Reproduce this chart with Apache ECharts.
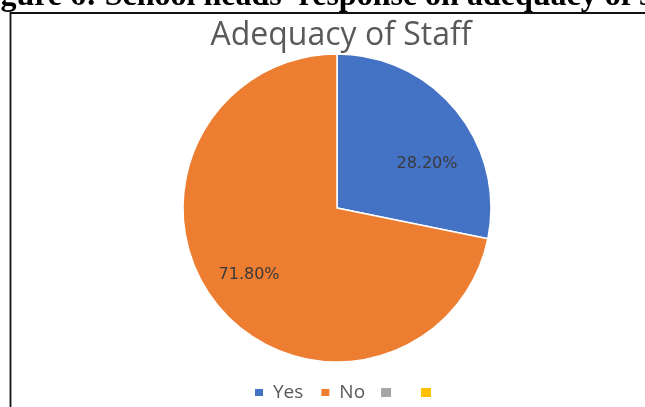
<!DOCTYPE html>
<html>
<head>
<meta charset="utf-8">
<script src="https://cdn.jsdelivr.net/npm/echarts@6/dist/echarts.min.js"></script>
<style>html,body{margin:0;padding:0;background:#fff}#c{width:645px;height:407px}</style>
</head>
<body>
<div id="c"></div>
<script>
var categories = ['Yes', 'No', ' ', '  '];
var values = [28.2, 71.8, 0, 0];
var colors = ['#4472C4', '#ED7D31', '#A5A5A5', '#FFC000'];
var chartTitle = 'Adequacy of Staff';
var figureCaption = "Figure 6: School heads' response on adequacy of staff";

var chart = echarts.init(document.getElementById('c'), null, {renderer: 'canvas'});
var data = categories.map(function (n, i) {
  var item = {name: n, value: values[i], itemStyle: {color: colors[i]}};
  if (values[i] === 0) { item.label = {show: false}; item.itemStyle.borderWidth = 0; }
  return item;
});
var labelShift = [[28, 6], [-26, 16]];
chart.setOption({
  animation: false,
  backgroundColor: '#fff',
  graphic: [{
    type: 'rect', z: -1,
    shape: {x: 10.5, y: 13, width: 800, height: 600},
    style: {fill: 'none', stroke: '#111', lineWidth: 1.8}
  }],
  title: [{
    text: figureCaption,
    left: -33, top: -24,
    textStyle: {fontFamily: 'Liberation Serif', fontWeight: 'bold', fontSize: 32, color: '#000'}
  }, {
    text: chartTitle,
    left: 336, top: 15, textAlign: 'center',
    textStyle: {fontFamily: 'Open Sans', fontWeight: 'normal', fontSize: 32, color: '#595959'}
  }],
  legend: {
    data: categories,
    left: 248, top: 378,
    itemWidth: 10, itemHeight: 9, itemGap: 16,
    icon: 'rect',
    formatter: function (n) { return n.trim() === '' ? ' ' : n; },
    textStyle: {fontFamily: 'Open Sans', fontSize: 19, color: '#595959', padding: [0, 0, 0, 4]}
  },
  series: [{
    type: 'pie',
    center: [337, 208],
    radius: 154,
    startAngle: 90,
    clockwise: true,
    data: data,
    itemStyle: {borderColor: '#fff', borderWidth: 1.5},
    label: {
      show: true, position: 'inside',
      formatter: function (p) { return p.value.toFixed(2) + '%'; },
      fontFamily: 'DejaVu Sans', fontSize: 16, color: '#3a3a3a'
    },
    labelLine: {show: false},
    labelLayout: function (p) {
      var s = labelShift[p.dataIndex] || [0, 0];
      return {dx: s[0], dy: s[1]};
    },
    emphasis: {disabled: true}
  }]
});
</script>
</body>
</html>
